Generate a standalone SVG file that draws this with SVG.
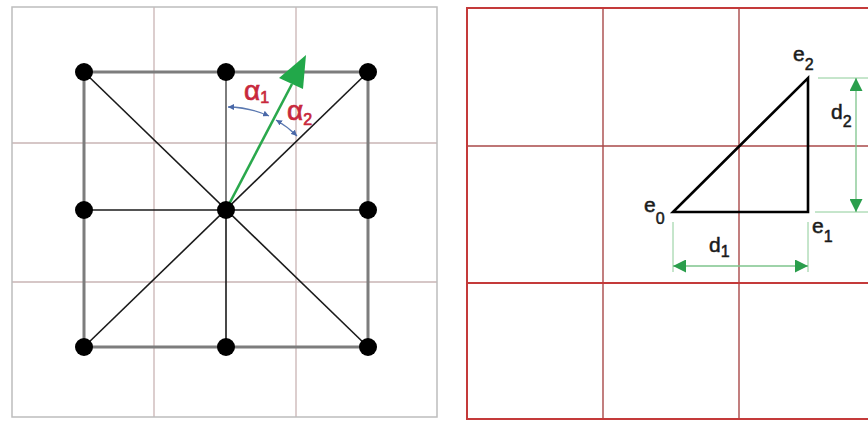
<svg xmlns="http://www.w3.org/2000/svg" width="868" height="421" viewBox="0 0 868 421">
<style>
.gridL{stroke:#c9b4b4;stroke-width:1.3;fill:none}
.borderL{stroke:#bdbdbd;stroke-width:1.5;fill:none}
.gridR{stroke:#a84848;stroke-width:1.4;fill:none}
.borderR{stroke:#c43a3a;stroke-width:2;fill:none}
.sq{stroke:#7d7d7d;stroke-width:3;fill:none}
.thin{stroke:#1a1a1a;stroke-width:1.6;fill:none}
.dot{fill:#000}
.tri{stroke:#000;stroke-width:2.6;fill:none}
.ext{stroke:#8ccc98;stroke-width:1;fill:none}
.dim{stroke:#7ec48c;stroke-width:1.3;fill:none}
.ang{stroke:#5a78b0;stroke-width:1.3;fill:none}
.lbl{font-family:"Liberation Sans",Arial,sans-serif;font-size:21px;fill:#1a1a1a;stroke:#1a1a1a;stroke-width:0.5}
.alpha{font-family:"Liberation Sans",Arial,sans-serif;font-size:28px;fill:#c8283c;stroke:#c8283c;stroke-width:0.7}
</style>
<defs>
<marker id="gArr" viewBox="0 0 10 10" refX="10" refY="5" markerWidth="14" markerHeight="13" markerUnits="userSpaceOnUse" orient="auto-start-reverse">
<path d="M0,0 L10,5 L0,10 z" fill="#2a9e4c"/>
</marker>
<marker id="bArr" viewBox="0 0 10 10" refX="10" refY="5" markerWidth="6" markerHeight="6" markerUnits="userSpaceOnUse" orient="auto-start-reverse">
<path d="M0,0 L10,5 L0,10 z" fill="#4a68a8"/>
</marker>
</defs>
<rect width="868" height="421" fill="#fff"/>

<g id="left-grid">
<line class="gridL" x1="154" y1="7" x2="154" y2="417"/>
<line class="gridL" x1="296" y1="7" x2="296" y2="417"/>
<line class="gridL" x1="12" y1="143" x2="437" y2="143"/>
<line class="gridL" x1="12" y1="282" x2="437" y2="282"/>
<rect class="borderL" x="12" y="7" width="425" height="410"/>
</g>

<g id="connectors">
<path class="sq" d="M84,72 H368 V347 H84 Z"/>
<line class="sq" x1="226" y1="72" x2="226" y2="210" style="stroke-width:2"/>
<line class="thin" x1="226" y1="210" x2="226" y2="347"/>
<line class="thin" x1="84" y1="210" x2="368" y2="210"/>
<line class="thin" x1="84" y1="72" x2="368" y2="347"/>
<line class="thin" x1="84" y1="347" x2="368" y2="72"/>
<line x1="226" y1="210" x2="292" y2="84" stroke="#2aa84c" stroke-width="2.6"/>
<path d="M306,55 L279,78 L303,89 Z" fill="#22a84a"/>
<path class="ang" d="M228,107 A103,103 0 0 1 269,116" marker-start="url(#bArr)" marker-end="url(#bArr)"/>
<path class="ang" d="M276,120 A103,103 0 0 1 297,136" marker-start="url(#bArr)" marker-end="url(#bArr)"/>
</g>

<g id="node-tl"><circle class="dot" cx="84" cy="72" r="9"/></g>
<g id="node-tm"><circle class="dot" cx="226" cy="72" r="9"/></g>
<g id="node-tr"><circle class="dot" cx="368" cy="72" r="9"/></g>
<g id="node-ml"><circle class="dot" cx="84" cy="210" r="9"/></g>
<g id="node-c"><circle class="dot" cx="226" cy="210" r="9"/></g>
<g id="node-mr"><circle class="dot" cx="368" cy="210" r="9"/></g>
<g id="node-bl"><circle class="dot" cx="84" cy="347" r="9"/></g>
<g id="node-bm"><circle class="dot" cx="226" cy="347" r="9"/></g>
<g id="node-br"><circle class="dot" cx="368" cy="347" r="9"/></g>

<g id="label-alpha1"><text class="alpha" x="244" y="100">α<tspan font-size="16" dy="3">1</tspan></text></g>
<g id="label-alpha2"><text class="alpha" x="287" y="120">α<tspan font-size="16" dy="5">2</tspan></text></g>

<g id="right-grid">
<line class="gridR" x1="603" y1="7" x2="603" y2="420"/>
<line class="gridR" x1="739" y1="7" x2="739" y2="420"/>
<line class="gridR" x1="467" y1="146" x2="868" y2="146"/>
<line class="borderR" x1="467" y1="283" x2="868" y2="283"/>
<path class="borderR" d="M868,8 H467 V419 H868"/>
</g>

<g id="triangle">
<path class="tri" d="M673,212 L808,212 L808,78 Z"/>
</g>

<g id="dimensions">
<line class="ext" x1="673" y1="222" x2="673" y2="272"/>
<line class="ext" x1="808" y1="222" x2="808" y2="272"/>
<line class="dim" x1="673" y1="266" x2="808" y2="266" marker-start="url(#gArr)" marker-end="url(#gArr)"/>
<line class="ext" x1="818" y1="78" x2="868" y2="78"/>
<line class="ext" x1="815" y1="212" x2="868" y2="212"/>
<line class="dim" x1="856" y1="78" x2="856" y2="212" marker-start="url(#gArr)" marker-end="url(#gArr)"/>
</g>

<g id="label-e0"><text class="lbl" x="644" y="212">e<tspan font-size="16" dy="12">0</tspan></text></g>
<g id="label-e1"><text class="lbl" x="812" y="233">e<tspan font-size="16" dy="9">1</tspan></text></g>
<g id="label-e2"><text class="lbl" x="793" y="61">e<tspan font-size="16" dy="9">2</tspan></text></g>
<g id="label-d1"><text class="lbl" x="709" y="252">d<tspan font-size="16" dy="5">1</tspan></text></g>
<g id="label-d2"><text class="lbl" x="831" y="119">d<tspan font-size="16" dy="8">2</tspan></text></g>
</svg>
